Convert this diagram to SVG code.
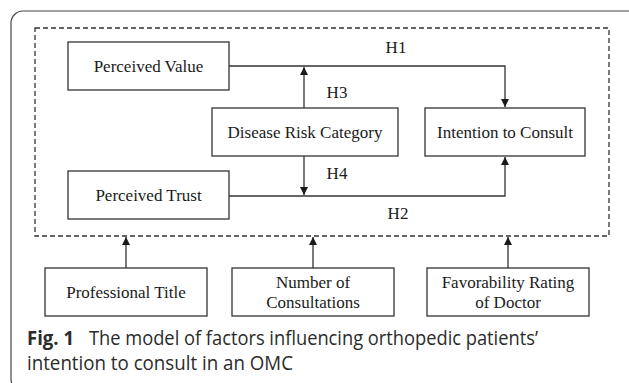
<svg xmlns="http://www.w3.org/2000/svg" width="629" height="383" viewBox="0 0 629 383">
<style>
.box{fill:#fff;stroke:#333;stroke-width:1.3}
.lbl{font-family:"Liberation Serif","Times New Roman",serif;font-size:17px;fill:#1a1a1a;text-anchor:middle}
.con{fill:none;stroke:#333;stroke-width:1.3}
.cap{font-family:"Open Sans","Noto Sans",sans-serif;font-size:20px;fill:#2b2b2b}
</style>
<defs>
<marker id="ah" viewBox="0 0 10 10" refX="10" refY="5" markerWidth="8" markerHeight="10" markerUnits="userSpaceOnUse" orient="auto">
<path d="M0,0 L10,5 L0,10 z" fill="#1a1a1a"/>
</marker>
</defs>
<rect x="11" y="11" width="630" height="380" rx="12" fill="#fff" stroke="#444" stroke-width="1.2"/>
<rect id="frame" x="35" y="28" width="574" height="208" fill="none" stroke="#333" stroke-width="1.3" stroke-dasharray="5,3"/>
<g id="connectors">
<path class="con" d="M229,66 H505 V107" marker-end="url(#ah)"/>
<path class="con" d="M229,196 H505 V157" marker-end="url(#ah)"/>
<path class="con" d="M304,108 V67" marker-end="url(#ah)"/>
<path class="con" d="M304,156 V195" marker-end="url(#ah)"/>
<path class="con" d="M126,268 V237" marker-end="url(#ah)"/>
<path class="con" d="M313,268 V237" marker-end="url(#ah)"/>
<path class="con" d="M508,268 V237" marker-end="url(#ah)"/>
<text class="lbl" x="396" y="53">H1</text>
<text class="lbl" x="337" y="98">H3</text>
<text class="lbl" x="337" y="179">H4</text>
<text class="lbl" x="398" y="219">H2</text>
</g>
<g id="perceived-value">
<rect class="box" x="68" y="42" width="161" height="48"/>
<text class="lbl" x="148.5" y="72">Perceived Value</text>
</g>
<g id="disease-risk">
<rect class="box" x="212" y="108" width="186" height="48"/>
<text class="lbl" x="305" y="138">Disease Risk Category</text>
</g>
<g id="intention">
<rect class="box" x="425" y="108" width="160" height="48"/>
<text class="lbl" x="505" y="138">Intention to Consult</text>
</g>
<g id="perceived-trust">
<rect class="box" x="68" y="171" width="161" height="48"/>
<text class="lbl" x="148.5" y="201">Perceived Trust</text>
</g>
<g id="professional-title">
<rect class="box" x="45" y="268" width="162" height="48"/>
<text class="lbl" x="126" y="298">Professional Title</text>
</g>
<g id="num-consultations">
<rect class="box" x="232" y="268" width="162" height="48"/>
<text class="lbl" x="313" y="288">Number of</text>
<text class="lbl" x="313" y="308">Consultations</text>
</g>
<g id="favorability">
<rect class="box" x="427" y="268" width="162" height="48"/>
<text class="lbl" x="508" y="288">Favorability Rating</text>
<text class="lbl" x="508" y="308">of Doctor</text>
</g>
<text class="cap" x="27" y="345" font-weight="bold" textLength="47" lengthAdjust="spacingAndGlyphs">Fig. 1</text>
<text class="cap" x="89" y="345" textLength="449" lengthAdjust="spacingAndGlyphs">The model of factors influencing orthopedic patients’</text>
<text class="cap" x="27" y="370" textLength="266" lengthAdjust="spacingAndGlyphs">intention to consult in an OMC</text>
</svg>
